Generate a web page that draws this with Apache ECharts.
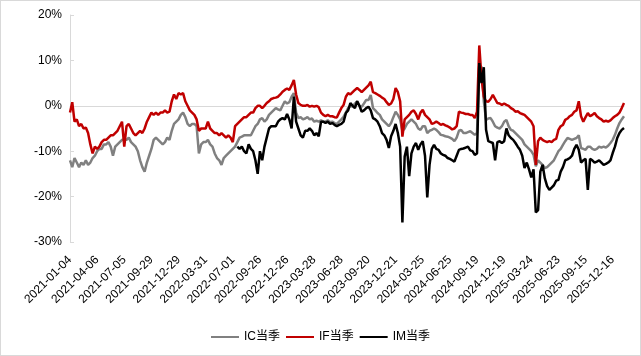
<!DOCTYPE html>
<html>
<head>
<meta charset="utf-8">
<script src="https://cdn.jsdelivr.net/npm/echarts@6/dist/echarts.min.js"></script>
<style>
html,body{margin:0;padding:0;background:#fff;}
#wrap{position:relative;width:641px;height:356px;}
#chart{position:absolute;left:0;top:0;width:641px;height:356px;}
#frame{position:absolute;left:0;top:0;width:641px;height:356px;box-sizing:border-box;border:1px solid #d9d9d9;pointer-events:none;}
</style>
</head>
<body>
<div id="wrap"><div id="chart"></div><div id="frame"></div></div>
<script>
// Tick labels (every 12th category)
const tickLabels = ['2021-01-04','2021-04-06','2021-07-05','2021-09-29','2021-12-29','2022-03-31','2022-07-01','2022-09-26','2022-12-26','2023-03-28','2023-06-28','2023-09-20','2023-12-21','2024-03-25','2024-06-25','2024-09-19','2024-12-19','2025-03-24','2025-06-23','2025-09-15','2025-12-16'];
const seriesNames = ['IC当季','IF当季','IM当季'];

// IC当季 (%)
const icValues = [
-12,-13.5,-11.5,-12.5,-13.5,-12.5,-13,-12,-13,-12.5,-11.5,-11,
-10,-9.5,-9.5,-8.5,-8.5,-8,-9,-11,-9,-8.5,-8,-7.5,
-7.5,-7.5,-7,-8,-8.5,-9,-10,-12,-13.5,-14.5,-12.5,-11,
-9.5,-7.5,-7,-7.5,-8,-8.5,-8,-7,-7.5,-5.5,-4,-3.5,
-3,-2,-1.5,-2.5,-4,-4.5,-4,-4,-4.5,-10.5,-8.5,-8,
-8,-7.5,-8.5,-9,-10.5,-11.5,-12,-13,-11.5,-11,-10.5,-10,
-9.5,-9,-8,-7,-6.8,-6.5,-6.5,-6.5,-6.5,-5.5,-4.5,-4,
-3,-2.7,-3.5,-3,-2,-1.5,-1,-0.5,-0.8,-1,0,1,
0.5,0.8,2,2.8,-1.5,-2.7,-2.5,-3,-2.8,-2.5,-3,-2.8,
-3.5,-3.3,-3.5,-3.2,-3.5,-3.5,-3.2,-3.6,-3.5,-3.8,-4,-3.5,
-3,-2.4,-1.5,-0.5,0,-0.2,0.5,1,0,-0.2,0.5,1.3,
1.3,2.4,-0.5,-1,-1.6,-2,-3,-3.5,-4,-4.5,-3.8,-2.5,
-1.3,-2,-3,-5.5,-5,-4,-3.5,-3,-3.5,-4,-5,-5.3,
-4.5,-4.5,-6,-5.5,-5.3,-5,-5.3,-5.8,-6.4,-6.5,-6.7,-6.8,
-7,-7.3,-7.8,-7,-5.5,-5.3,-6,-6,-5.8,-5.6,-6,-6.4,
-6,9,8.5,1,-3.1,-2.8,-2.7,-3.5,-4.5,-4.8,-5,-4.5,
-3.5,-3.1,-4.5,-5.3,-5.5,-6,-6.5,-7,-7.5,-8.5,-9,-9.5,
-10,-10.8,-13.3,-12,-12.5,-13,-13.7,-13.5,-13,-12.5,-12,-11,
-10,-9.5,-8.6,-7.8,-7.1,-7.3,-7.5,-7.3,-7.1,-6.5,-9.3,-9.5,
-9.7,-9,-9,-9.5,-9.7,-9.5,-9,-9.2,-9,-9.2,-8.8,-8.2,
-7.5,-6.4,-5,-3.8,-3,-2.3
];

// IF当季 (%)
const ifValues = [
-1.5,0.8,-3.5,-3,-4.5,-4,-5,-4.8,-6,-8.5,-10.5,-9,
-9.5,-9,-8,-7.5,-7.5,-7,-6.5,-6.5,-6,-5.5,-4.5,-3.5,
-9,-4.5,-4,-5,-6,-6.5,-6,-5.5,-6,-5,-3.5,-2.5,
-1.5,-2,-1.5,-2,-1.5,-1.5,-1,-1.5,-1.3,1,2.5,1.5,
2.8,2.5,2.8,1,0,-1,-1.5,-2,-3,-5.5,-5,-5,
-5,-3.5,-5,-5.5,-6,-6,-6.5,-6,-6.5,-7,-6.5,-7,
-8,-4.5,-4,-3.5,-3,-2.5,-2.5,-2,-1.5,-1.5,-0.5,0,
0,-0.5,0,0.6,1,1.5,1.7,1.8,2,2.5,3.1,3.5,
3.8,3.5,4.5,5.7,2.5,0.6,0.2,0,0,0.2,-0.2,0,
-0.2,0,-0.3,-1.5,-2,-2.3,-2,-2.3,-2.3,-2.5,-2.6,-1.5,
-0.5,0.2,2,2.8,2.5,3,3.5,3.9,3.5,3,3.5,4,
4.5,5.3,3,2.8,2.5,2.2,1.8,1.5,0.8,0.2,0.5,1.5,
3.9,3,1,-6.8,-3,-2.5,-2,-1.3,-1,-1.8,-3,-1.5,
-0.9,-2,-2.5,-3,-4,-3.8,-3.5,-3.8,-4.2,-4,-4.3,-4.5,
-4.8,-5.2,-5,-4.5,-1.3,-1.5,-1.6,-1.8,-1.8,-2,-2,-2.7,
-1.3,13.3,6,2,1,0.9,1.5,2.4,1.5,0.6,0.5,0.2,
0.5,0.2,0,-0.5,-0.8,-1.3,-1.2,-1.6,-1.8,-2,-2.5,-3,
-3.5,-4.5,-13,-7.8,-7,-7.5,-7.8,-8,-7.8,-8,-7.5,-7.3,
-5.3,-4.5,-4.2,-3.1,-2.8,-2.3,-2,-1.3,-1,1,-2.3,-3.5,
-2.5,-1.6,-2.3,-2,-1.6,-2.3,-2.7,-3,-3.5,-3.3,-3.5,-3.2,
-2.7,-2.3,-2,-1.5,-0.5,0.6
];

// IM当季 (%) — listed from its first trading point onward
const imValues = [
-9,-9.5,-9,-10,-10.5,-8.5,-9.5,-10,-12,-15,
-10,-12,-9,-7,-5,-4.5,-4.5,-4.5,-3.5,-3,-2.7,-3,
-1.8,-3,-5,2,-3.5,-5,-6.5,-7,-5.5,-5.5,-5,-5.5,
-6.5,-6,-6.7,-3.5,-3.5,-3.8,-3.5,-4,-3.8,-4.2,-4.5,-4.2,
-4,-3.5,-1.6,-1,0.6,0,-0.5,1,0,-1.3,-1,-0.5,
-0.2,-1,-2.7,-3,-3.5,-4.5,-6,-6.5,-7.5,-9.3,-6.7,-5.5,
-4,-6,-9,-25.7,-11.2,-9,-15.5,-10.5,-9,-8.2,-9.7,-8.5,
-7.8,-11,-20.2,-13,-9.5,-8.6,-9.5,-9.7,-10.5,-10.8,-11,-11.5,
-11.7,-12,-12.3,-11,-9.7,-9.5,-9.4,-9.2,-9,-9.8,-10,-10.8,
-10.5,9.4,5,8.5,-5.3,-7.8,-8,-8.2,-12,-8,-7.8,-8.2,
-7.8,-5,-6.5,-7.1,-7.5,-8.2,-9,-9.7,-11,-13.7,-12.5,-14,
-15.8,-14,-23.5,-23,-14.5,-13,-16,-17.7,-18.5,-18,-17.5,-16.5,
-16.3,-14.5,-13.5,-12,-11.8,-11.5,-11,-9.5,-8.6,-9.7,-12.5,-12,
-11.7,-18.5,-11.7,-12,-12.5,-12.3,-12,-12.5,-13,-12.8,-12.5,-12,
-10.4,-9,-7.1,-6,-5.3,-4.9
];

// ---- build categories (12 sampled dates between consecutive tick labels) ----
const DAY = 86400000;
function fmt(t){
  const d = new Date(t);
  const m = String(d.getUTCMonth()+1).padStart(2,'0');
  const dd = String(d.getUTCDate()).padStart(2,'0');
  return d.getUTCFullYear()+'-'+m+'-'+dd;
}
const PER = 12;
const categories = [];
for (let s = 0; s < tickLabels.length; s++) {
  const d0 = Date.parse(tickLabels[s]);
  const last = s === tickLabels.length - 1;
  const d1 = last ? d0 + (d0 - Date.parse(tickLabels[s-1])) : Date.parse(tickLabels[s+1]);
  const n = last ? (icValues.length - PER * (tickLabels.length - 1)) : PER;
  for (let k = 0; k < n; k++) {
    categories.push(fmt(d0 + Math.round((d1 - d0) / DAY * k / PER) * DAY));
  }
}
const imFull = new Array(categories.length - imValues.length).fill(null).concat(imValues);

const colors = ['#808080', '#C00000', '#000000'];
const FONT = "'Liberation Sans', Arial, 'Noto Sans CJK SC', sans-serif";

const chart = echarts.init(document.getElementById('chart'), null, {renderer: 'canvas'});
const mk = (name, data, color) => ({
  name, type: 'line', data, xAxisIndex: 0, symbol: 'none', showSymbol: false,
  connectNulls: false,
  lineStyle: {width: 2.5, color}, itemStyle: {color}
});
chart.setOption({
  animation: false,
  textStyle: {fontFamily: FONT},
  grid: {left: 70, right: 17, top: 15, bottom: 114},
  legend: {
    data: seriesNames, left: 'center', top: 326, icon: 'rect',
    itemWidth: 28, itemHeight: 2, itemGap: 6,
    textStyle: {fontSize: 12, color: '#000', fontFamily: FONT}
  },
  xAxis: [{
    type: 'category', data: categories, boundaryGap: false,
    axisLine: {show: false, onZero: false}, axisTick: {show: false},
    splitLine: {show: false},
    axisLabel: {interval: PER - 1, rotate: 45, fontSize: 12, color: '#000', margin: 16, fontFamily: FONT}
  }, {
    type: 'category', data: categories, boundaryGap: false, position: 'bottom',
    axisLine: {show: true, onZero: true, lineStyle: {color: '#d9d9d9', width: 1}},
    axisTick: {show: false}, axisLabel: {show: false}, splitLine: {show: false}
  }],
  yAxis: {
    type: 'value', min: -30, max: 20, interval: 10,
    axisLine: {show: true, lineStyle: {color: '#d9d9d9'}},
    axisTick: {show: true, inside: true, length: 4, lineStyle: {color: '#d9d9d9'}},
    splitLine: {show: false},
    axisLabel: {formatter: '{value}%', fontSize: 12, color: '#000', margin: 8, fontFamily: FONT}
  },
  series: [
    mk(seriesNames[0], icValues, colors[0]),
    mk(seriesNames[1], ifValues, colors[1]),
    mk(seriesNames[2], imFull, colors[2])
  ]
});
</script>
</body>
</html>
